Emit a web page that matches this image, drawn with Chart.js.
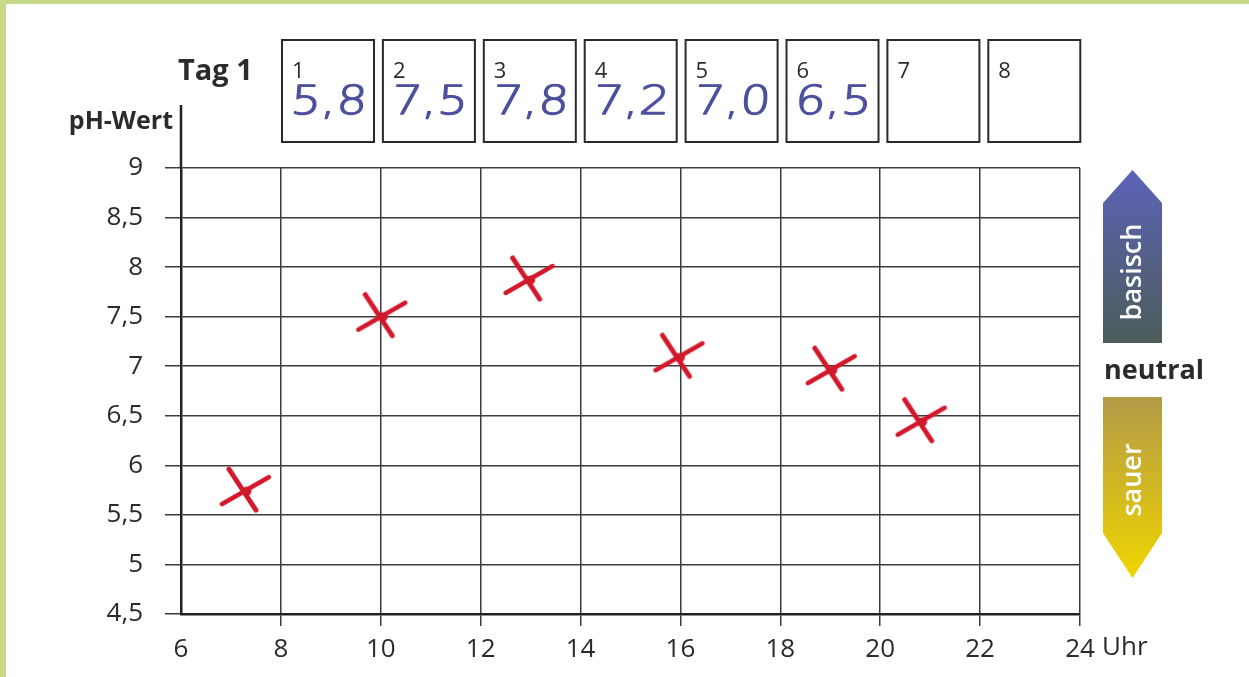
<!DOCTYPE html>
<html><head><meta charset="utf-8">
<script src="https://cdn.jsdelivr.net/npm/chart.js@4"></script>
<style>html,body{margin:0;padding:0;background:#fff;overflow:hidden}</style>
</head><body>
<canvas id="c" width="1249" height="677" style="display:block;width:1249px;height:677px"></canvas>
<script>
// ---- data ----
const hours = [7.32, 10.05, 13.0, 16.0, 19.05, 20.85];
const phValues = [5.74, 7.5, 7.87, 7.09, 6.96, 6.44];
const boxNumbers = ['1', '2', '3', '4', '5', '6', '7', '8'];
const boxValues = ['5,8', '7,5', '7,8', '7,2', '7,0', '6,5', '', ''];
const xTickLabels = ['6', '8', '10', '12', '14', '16', '18', '20', '22', '24'];
const yTickLabels = ['4,5', '5', '5,5', '6', '6,5', '7', '7,5', '8', '8,5', '9'];
const xUnit = 'Uhr';
const yTitle = 'pH-Wert';
const chartTitle = 'Tag 1';
const upLabel = 'basisch';
const midLabel = 'neutral';
const downLabel = 'sauer';

const FONT = '"Open Sans", "Noto Sans", sans-serif';
const TXT = '#2b2b2b';
const GRID = '#3c3c3c';

// hand-drawn red cross used as point style
function makeCross() {
  const cv = document.createElement('canvas');
  cv.width = 64; cv.height = 64;
  const g = cv.getContext('2d');
  g.translate(32, 32);
  g.strokeStyle = '#d3182c';
  g.lineCap = 'round';
  g.lineWidth = 5;
  g.beginPath(); g.moveTo(-18, -22); g.lineTo(9, 19); g.stroke();
  g.lineWidth = 4.5;
  g.beginPath(); g.moveTo(-25, 13); g.lineTo(22, -14); g.stroke();
  g.fillStyle = '#d3182c';
  g.beginPath(); g.arc(0, 0, 4.5, 0, Math.PI * 2); g.fill();
  return cv;
}
const crossImg = makeCross();

const decor = {
  id: 'decor',
  beforeDraw(chart) {
    const ctx = chart.ctx;
    ctx.save();
    ctx.fillStyle = '#ffffff';
    ctx.fillRect(0, 0, chart.width, chart.height);
    ctx.fillStyle = '#c6da8a';
    ctx.fillRect(0, 0, chart.width, 4);
    ctx.fillRect(0, 0, 6, chart.height);
    ctx.restore();
  },
  afterDraw(chart) {
    const ctx = chart.ctx;
    const a = chart.chartArea;
    const xs = chart.scales.x;
    ctx.save();
    // y axis extension above chart area
    ctx.strokeStyle = '#222';
    ctx.lineWidth = 2.5;
    ctx.beginPath(); ctx.moveTo(a.left, a.top); ctx.lineTo(a.left, 105); ctx.stroke();

    // axis titles
    ctx.fillStyle = TXT;
    ctx.font = 'bold 25px ' + FONT;
    ctx.textAlign = 'right'; ctx.textBaseline = 'alphabetic';
    ctx.fillText(yTitle, 173, 129);
    ctx.font = 'bold 29px ' + FONT;
    ctx.textAlign = 'left';
    ctx.fillText(chartTitle, 178, 80);
    // unit after 24
    ctx.font = '26px ' + FONT;
    ctx.textAlign = 'left'; ctx.textBaseline = 'middle';
    ctx.fillText(xUnit, xs.getPixelForValue(24) + 22, 648);

    // boxes
    for (let i = 0; i < boxNumbers.length; i++) {
      const left = 282 + i * 100.9, top = 40, w = 92, h = 102;
      ctx.strokeStyle = '#2a2a2a';
      ctx.lineWidth = 2;
      ctx.strokeRect(left, top, w, h);
      ctx.fillStyle = TXT;
      ctx.font = '22px ' + FONT;
      ctx.textAlign = 'left'; ctx.textBaseline = 'alphabetic';
      ctx.fillText(boxNumbers[i], left + 10, 78);
      if (boxValues[i]) {
        ctx.save();
        ctx.translate(left + w / 2, 114);
        ctx.transform(1.2, 0, -0.08, 1, 0, 0);
        ctx.fillStyle = '#4c509e';
        ctx.strokeStyle = '#4c509e';
        ctx.lineWidth = 1.3;
        ctx.lineJoin = 'round';
        ctx.font = '200 40px "DejaVu Sans", sans-serif';
        ctx.textAlign = 'center';
        ctx.fillText(boxValues[i], 0, 0);
        ctx.strokeText(boxValues[i], 0, 0);
        ctx.restore();
      }
    }

    // arrows
    const L = 1103, R = 1162, C = (L + R) / 2;
    let gr = ctx.createLinearGradient(0, 170, 0, 343);
    gr.addColorStop(0, '#5c63b8'); gr.addColorStop(1, '#4c5d5a');
    ctx.fillStyle = gr;
    ctx.beginPath();
    ctx.moveTo(L, 343); ctx.lineTo(L, 203); ctx.lineTo(C, 170); ctx.lineTo(R, 203); ctx.lineTo(R, 343);
    ctx.closePath(); ctx.fill();
    gr = ctx.createLinearGradient(0, 397, 0, 578);
    gr.addColorStop(0, '#b39a47'); gr.addColorStop(1, '#efd500');
    ctx.fillStyle = gr;
    ctx.beginPath();
    ctx.moveTo(L, 397); ctx.lineTo(R, 397); ctx.lineTo(R, 533); ctx.lineTo(C, 578); ctx.lineTo(L, 533);
    ctx.closePath(); ctx.fill();

    ctx.fillStyle = '#ffffff';
    ctx.font = '600 27px ' + FONT;
    ctx.textAlign = 'center'; ctx.textBaseline = 'middle';
    ctx.save(); ctx.translate(C + 1, 272); ctx.rotate(-Math.PI / 2); ctx.fillText(upLabel, 0, 0); ctx.restore();
    ctx.save(); ctx.translate(C + 1, 480); ctx.rotate(-Math.PI / 2); ctx.fillText(downLabel, 0, 0); ctx.restore();

    ctx.fillStyle = TXT;
    ctx.font = 'bold 27px ' + FONT;
    ctx.textAlign = 'left'; ctx.textBaseline = 'alphabetic';
    ctx.fillText(midLabel, 1104, 379);
    ctx.restore();
  }
};

new Chart(document.getElementById('c'), {
  type: 'scatter',
  data: {
    datasets: [{
      data: hours.map((h, i) => ({ x: h, y: phValues[i] })),
      pointStyle: crossImg,
      pointRadius: 20,
      pointHoverRadius: 20
    }]
  },
  options: {
    responsive: false,
    animation: false,
    devicePixelRatio: 1,
    layout: { padding: { left: 0, top: 168, right: 169, bottom: 0 } },
    plugins: { legend: { display: false }, tooltip: { enabled: false } },
    scales: {
      x: {
        type: 'linear', min: 6, max: 24,
        afterFit(s) { s.height = 63; },
        ticks: {
          stepSize: 2, padding: 8, color: TXT,
          font: { family: FONT, size: 26 },
          callback: (v, i) => xTickLabels[i],
          maxRotation: 0, autoSkip: false
        },
        grid: {
          color: GRID, lineWidth: 1.5, tickLength: 12,
          tickColor: c => c.index === 0 ? 'rgba(0,0,0,0)' : GRID, tickWidth: 1.5
        },
        border: { color: '#222', width: 2.5 }
      },
      y: {
        type: 'linear', min: 4.5, max: 9,
        afterFit(s) { s.width = 181; },
        ticks: {
          stepSize: 0.5, padding: 22, color: TXT,
          font: { family: FONT, size: 26 },
          callback: (v, i) => yTickLabels[i],
          autoSkip: false
        },
        grid: { color: GRID, lineWidth: 1.5, tickLength: 16, tickColor: GRID, tickWidth: 1.5 },
        border: { color: '#222', width: 2.5 }
      }
    }
  },
  plugins: [decor]
});
</script>
</body></html>
